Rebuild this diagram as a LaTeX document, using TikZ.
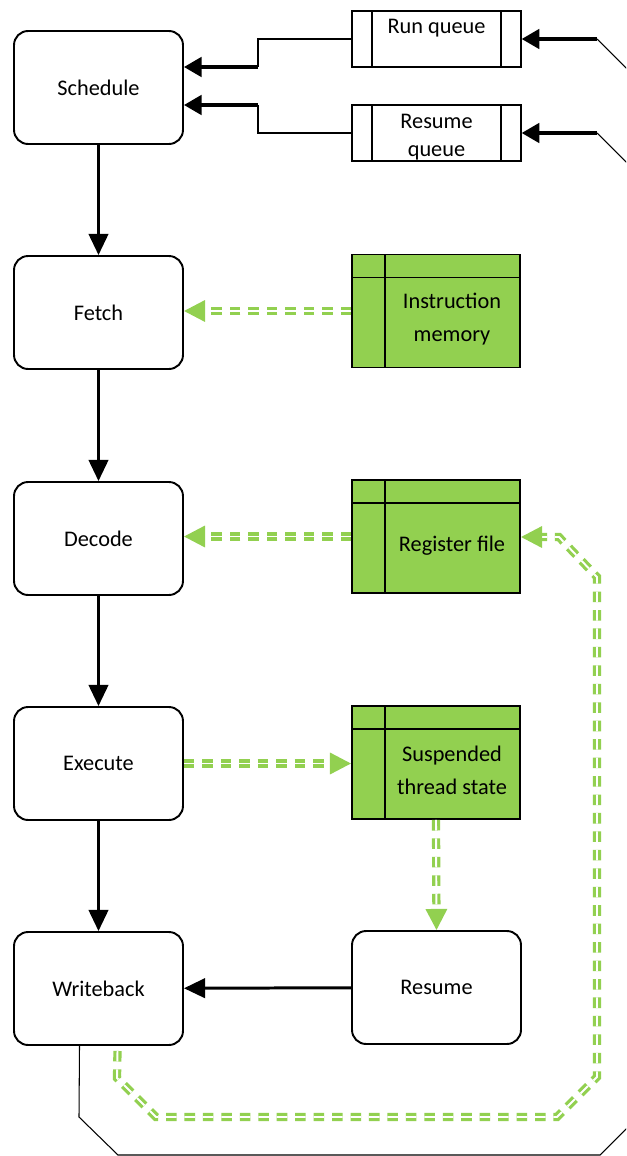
\documentclass[tikz,border=0pt]{standalone}
\usepackage{fontspec}
\setmainfont{Carlito}
\usetikzlibrary{positioning, arrows.meta, calc}
\definecolor{storegreen}{RGB}{146,208,80}

\begin{document}
\begin{tikzpicture}[x=0.02cm, y=-0.02cm,
	font=\fontsize{12.7}{18.7}\selectfont,
	stage/.style={draw, rectangle, rounded corners=8pt, line width=1.1pt, minimum width=3.38cm,
		minimum height=2.26cm, text centered},
	queue/.style={draw, rectangle, line width=0.8pt, minimum width=3.38cm, minimum height=1.12cm,
		inner sep=0pt,
		path picture={
			\draw[line width=0.8pt] ([xshift=0.4cm]path picture bounding box.north west) -- ([xshift=0.4cm]path picture bounding box.south west);
			\draw[line width=0.8pt] ([xshift=-0.4cm]path picture bounding box.north east) -- ([xshift=-0.4cm]path picture bounding box.south east);}},
	queuetext/.style={align=center, font=\fontsize{12.7}{16}\selectfont},
	store/.style={draw, rectangle, fill=storegreen, line width=1.1pt, minimum width=3.36cm,
		minimum height=2.26cm,
		path picture={
			\draw[line width=1.1pt] ([yshift=-0.46cm]path picture bounding box.north west) -- ([yshift=-0.46cm]path picture bounding box.north east);
			\draw[line width=1.1pt] ([xshift=0.66cm]path picture bounding box.north west) -- ([xshift=0.66cm]path picture bounding box.south west);}},
	storetext/.style={xshift=0.32cm, yshift=-0.16cm, align=center},
	flow/.style={line width=1.7pt, -{Triangle[length=12pt, width=11pt]}},
	feed/.style={line width=2pt, -{Triangle[length=10pt, width=11pt]}},
	wire/.style={line width=0.6pt},
	access/.style={draw=storegreen, line width=1.8pt, double=white, double distance=1.1pt,
		dash pattern=on 6pt off 4.5pt, -{Triangle[length=12pt, width=12pt]}}]
	
	\useasboundingbox (0,0) rectangle (626,1156);
	\clip (0,0) rectangle (626,1156);
	
	%Pipeline stages
	\node (schedule) at (98.5,87.5) [stage] {Schedule};
	\node (fetch) at (98.5,312.5) [stage] {Fetch};
	\node (decode) at (98.5,538.5) [stage] {Decode};
	\node (execute) at (98.5,763.5) [stage] {Execute};
	\node (writeback) at (98.5,988.5) [stage] {Writeback};
	
	%Queues
	\node (runQueue) at (436.5,39) [queue, label={[queuetext, yshift=0.22cm]center:Run queue}] {};
	\node (resumeQueue) at (436.5,133) [queue, label={[queuetext, yshift=-0.08cm]center:Resume\\ queue}] {};
	
	%Storage
	\node (instrMemory) at (436,311) [store, label={[storetext]center:Instruction\\ memory}] {};
	\node (registerFile) at (436,536.5) [store, label={[storetext, yshift=-0.03cm]center:Register file}] {};
	\node (threadState) at (436,762.5) [store, label={[storetext]center:Suspended\\ thread state}] {};
	
	\node (resume) at (436.5,987.5) [stage] {Resume};
	
	%Links
	\draw[flow] (schedule) -- (fetch);
	\draw[flow] (fetch) -- (decode);
	\draw[flow] (decode) -- (execute);
	\draw[flow] (execute) -- (writeback);
	\draw[flow] (resume) -- (writeback);
	
	%Queue links
	\coordinate (runBend) at (258,67);
	\coordinate (resumeBend) at (258,105);
	\draw[wire] (runQueue.west) -- (258,39) -- (runBend);
	\draw[feed] (runBend) -- (runBend -| schedule.east);
	\draw[wire] (resumeQueue.west) -- (258,133) -- (resumeBend);
	\draw[feed] (resumeBend) -- (resumeBend -| schedule.east);
	
	%Feedback wire
	\coordinate (runIn) at (597,39);
	\coordinate (resumeIn) at (597,133);
	\draw[wire] ([xshift=-0.38cm]writeback.south) -- (79,1117) -- (118,1155) -- (600,1155)
	-- (640,1115) -- (640,82) -- (runIn);
	\draw[wire] (640,176) -- (resumeIn);
	\draw[feed] (runIn) -- (runQueue.east);
	\draw[feed] (resumeIn) -- (resumeQueue.east);
	
	%Memory accesses
	\draw[access] (instrMemory.west) -- (instrMemory.west -| fetch.east);
	\draw[access] (registerFile.west) -- (registerFile.west -| decode.east);
	\draw[access] (execute.east) -- (execute.east -| threadState.west);
	\draw[access] (threadState.south) -- (resume.north);
	\draw[access] ([xshift=0.38cm, yshift=-0.1cm]writeback.south) -- (117,1078) -- (156,1117)
	-- (557,1117) -- (597,1077) -- (597,577) -- (559,537) -- (registerFile.east |- 0,537);
	
\end{tikzpicture}
\end{document}
